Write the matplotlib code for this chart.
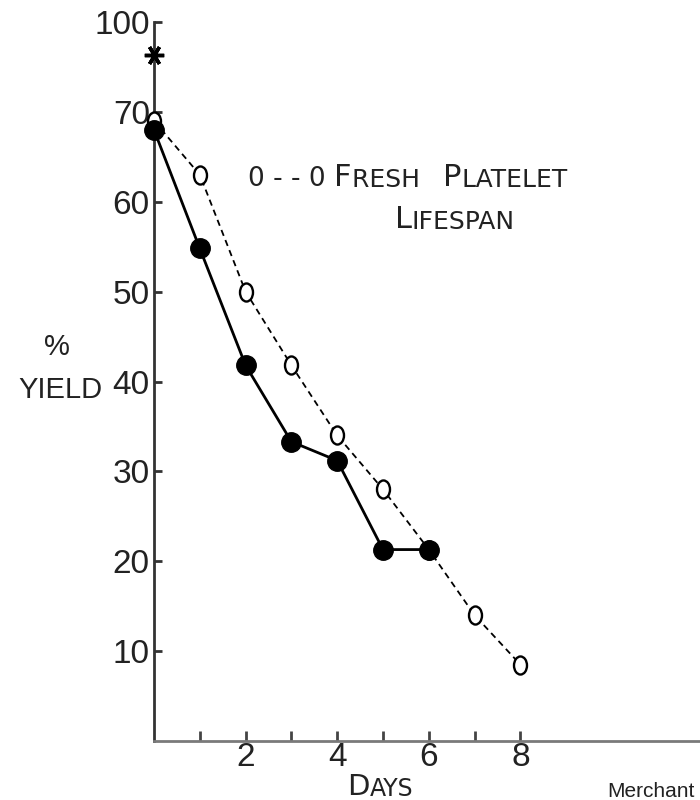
import matplotlib
matplotlib.use("Agg")
import matplotlib.pyplot as plt
from matplotlib.path import Path

plt.rcParams['font.family'] = ['Liberation Sans', 'DejaVu Sans']

# Data
days_stored = [0, 1, 2, 3, 4, 5, 6]
yield_stored = [68, 54.8, 41.8, 33.3, 31.2, 21.3, 21.3]
days_fresh = [0, 1, 2, 3, 4, 5, 6, 7, 8]
yield_fresh = [69, 63, 50, 41.8, 34, 28, 21.3, 14, 8.5]

ytick_vals = [10, 20, 30, 40, 50, 60, 70, 80]
ytick_labels = ['10', '20', '30', '40', '50', '60', '70', '100']
xtick_major = [2, 4, 6, 8]
xtick_minor = [1, 3, 5, 7]

fig = plt.figure(figsize=(7, 8), dpi=100)
px_day = 45.8
x0 = 154
xmax = 12.2
ax = fig.add_axes([x0 / 700, 59 / 800, xmax * px_day / 700, 719 / 800])
ax.set_xlim(0, xmax)
ax.set_ylim(0, 80)

uc = Path.unit_circle()
oval = Path(uc.vertices * [0.72, 1.0], uc.codes)

ax.plot(days_fresh, yield_fresh, color='black', lw=1.3, ls=(0, (3.5, 2.5)),
        marker=oval, ms=13, mfc='white', mec='black', mew=1.7, zorder=3, clip_on=False)
ax.plot(days_stored, yield_stored, color='black', lw=2.0, ls='-',
        marker='o', ms=14, mfc='black', mec='black', zorder=4, clip_on=False)

# axis break mark
ax.plot([0], [76.3], marker=(6, 2, 90), ms=14, mew=2.5, color='black', clip_on=False, zorder=5)

for s in ['top', 'right']:
    ax.spines[s].set_visible(False)
ax.spines['left'].set_color('#333333')
ax.spines['left'].set_linewidth(2.0)
ax.spines['bottom'].set_color('#7a7a7a')
ax.spines['bottom'].set_linewidth(2.0)

ax.set_yticks(ytick_vals)
ax.set_yticklabels(ytick_labels)
ax.set_xticks(xtick_major)
ax.set_xticks(xtick_minor, minor=True)
ax.set_xticklabels([str(v) for v in xtick_major])
ax.tick_params(axis='y', direction='in', length=6, width=2, pad=3, labelsize=24,
               labelcolor='#222222', color='#333333')
ax.tick_params(axis='x', which='both', direction='in', length=7, width=2, pad=1,
               labelsize=24, labelcolor='#222222', color='#444444')

txt = '#222222'
# y label
ax.text((57 - x0) / px_day, (741 - 347) / 8.986, '%', fontsize=21, ha='center', va='center', color=txt)
ax.text((102 - x0) / px_day, (741 - 390) / 8.986, 'YIELD', fontsize=21, ha='right', va='center', color=txt)

# x label (small caps)
d0 = ax.text((347 - x0) / px_day, (741 - 795) / 8.986, 'D', fontsize=21, ha='left', va='baseline',
             color=txt, family='DejaVu Sans')
ax.annotate('AYS', xy=(1, 0), xycoords=d0, fontsize=17, va='bottom', color=txt, family='DejaVu Sans')

# legend-like annotation (small caps)
lf = 'DejaVu Sans'
t0 = ax.text((248 - x0) / px_day, (741 - 186) / 8.986, '0 - - 0 ', fontsize=19, ha='left',
             va='baseline', color=txt, family=lf)
t1 = ax.annotate('F', xy=(1, 0), xycoords=t0, fontsize=22, va='bottom', color=txt, family=lf)
t2 = ax.annotate('RESH   ', xy=(1, 0), xycoords=t1, fontsize=18, va='bottom', color=txt, family=lf)
t3 = ax.annotate('P', xy=(1, 0), xycoords=t2, fontsize=22, va='bottom', color=txt, family=lf)
t4 = ax.annotate('LATELET', xy=(1, 0), xycoords=t3, fontsize=18, va='bottom', color=txt, family=lf)
t5 = ax.text((395 - x0) / px_day, (741 - 228) / 8.986, 'L', fontsize=22, ha='left', va='baseline',
             color=txt, family=lf)
ax.annotate('IFESPAN', xy=(1, 0), xycoords=t5, fontsize=18, va='bottom', color=txt, family=lf)

fig.text(0.993, 0.004, 'Merchant', fontsize=15, ha='right', va='baseline', color=txt)

fig.savefig('out.png', dpi=100)
